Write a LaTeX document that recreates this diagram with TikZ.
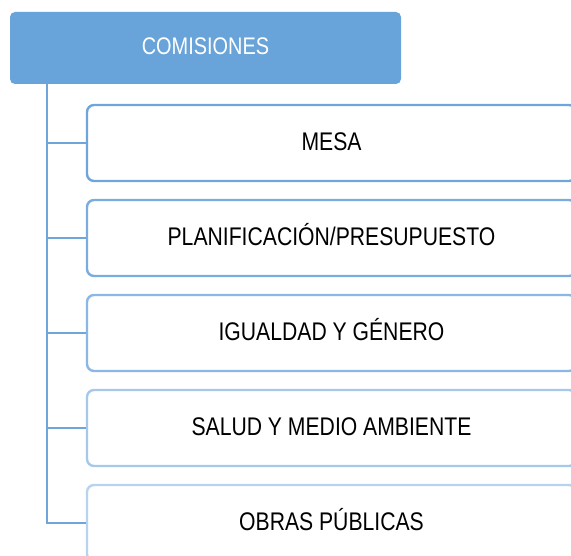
\documentclass[tikz,border=0pt]{standalone}
\usepackage{fontspec}
\setmainfont{Liberation Sans}[FakeStretch=0.83]
\definecolor{topblue}{HTML}{68A4D9}
\definecolor{lineblue}{HTML}{6FA5DB}
\definecolor{b1}{HTML}{6FA5DB}
\definecolor{b2}{HTML}{7AACDE}
\definecolor{b3}{HTML}{8AB7E3}
\definecolor{b4}{HTML}{A6C8EA}
\definecolor{b5}{HTML}{B7D3EF}
\begin{document}
\begin{tikzpicture}[x=1pt,y=-1pt,
  topbox/.style={rectangle, rounded corners=5pt, fill=topblue, text=white,
    minimum width=391pt, minimum height=72pt, inner sep=0pt,
    text height=17pt, text depth=4pt,
    font=\fontsize{24}{28}\selectfont},
  childbox/.style={rectangle, rounded corners=7pt, draw=#1, line width=2.4pt, fill=white,
    minimum width=489pt, minimum height=76pt, inner sep=0pt,
    text height=18.6pt, text depth=4pt,
    font=\fontsize{25.5}{30}\selectfont},
  conn/.style={draw=lineblue, line width=2.4pt}]
\useasboundingbox (0,0) rectangle (571,556);
\clip (0,0) rectangle (571,556);
\node[topbox] (top) at (205.5,48) {COMISIONES};
\node[childbox=b1] (c1) at (331.5,143) {MESA};
\node[childbox=b2] (c2) at (331.5,238) {PLANIFICACIÓN/PRESUPUESTO};
\node[childbox=b3] (c3) at (331.5,333) {IGUALDAD Y GÉNERO};
\node[childbox=b4] (c4) at (331.5,428) {SALUD Y MEDIO AMBIENTE};
\node[childbox=b5] (c5) at (331.5,523) {OBRAS PÚBLICAS};
\coordinate (trunk) at (47,84);
\draw[conn] (trunk) |- (c5.west);
\draw[conn] (trunk |- c1.west) -- (c1.west);
\draw[conn] (trunk |- c2.west) -- (c2.west);
\draw[conn] (trunk |- c3.west) -- (c3.west);
\draw[conn] (trunk |- c4.west) -- (c4.west);
\end{tikzpicture}
\end{document}
